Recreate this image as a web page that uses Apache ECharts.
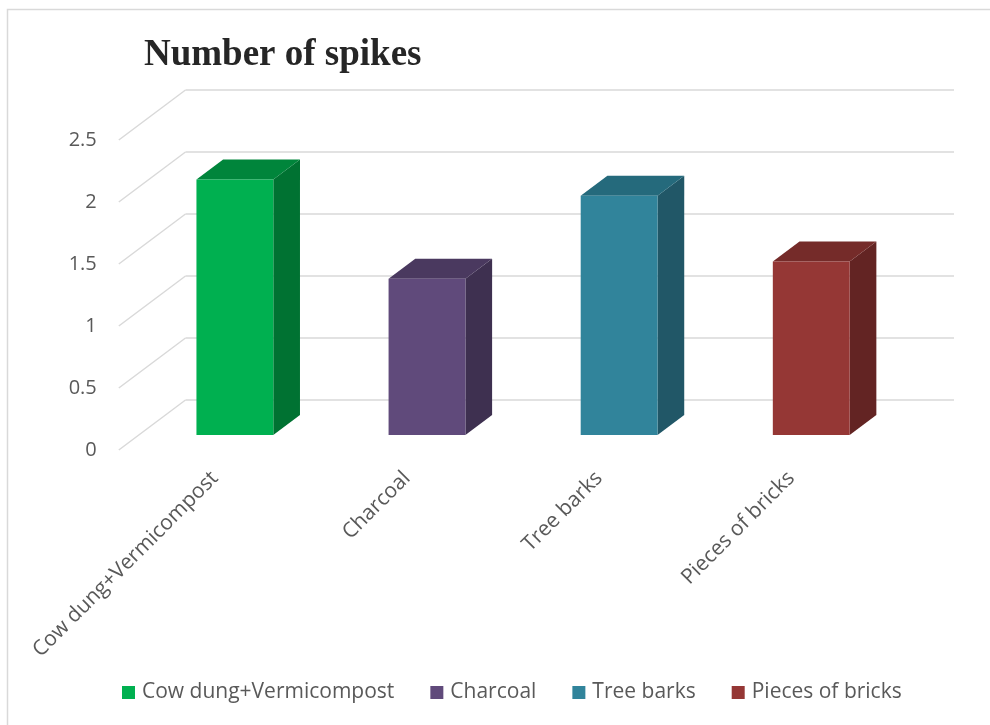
<!DOCTYPE html>
<html>
<head>
<meta charset="utf-8">
<script src="https://cdn.jsdelivr.net/npm/echarts@6/dist/echarts.min.js"></script>
<style>
  html, body { margin: 0; padding: 0; background: #fff; }
  #main { width: 990px; height: 725px; }
</style>
</head>
<body>
<div id="main"></div>
<script>
// data
const categories = ['Cow dung+Vermicompost', 'Charcoal', 'Tree barks', 'Pieces of bricks'];
const values = [2.06, 1.26, 1.93, 1.4];
const yTicks = [0, 0.5, 1, 1.5, 2, 2.5];
const frontColors = ['#00B050', '#604A7B', '#31849B', '#953735'];
const sideColors = ['#007232', '#3E3050', '#215767', '#632423'];
const topColors = ['#00853B', '#4A395F', '#256A7C', '#752B29'];

// oblique depth of the floor (back wall -> front edge), in pixels
const DEPTH = [-66.7, 50];

function renderBar(params, api) {
  const i = api.value(0);
  const top = api.coord([i, api.value(1)]);
  const base = api.coord([i, 0]);
  const w = api.size([1, 0])[0] * 0.4;
  // bar front face sits at 0.7 of the depth, back face at 0.3
  const fx = DEPTH[0] * 0.7, fy = DEPTH[1] * 0.7;
  const bx = DEPTH[0] * 0.3, by = DEPTH[1] * 0.3;
  const xl = top[0] - w / 2, xr = top[0] + w / 2;
  return {
    type: 'group',
    children: [
      {
        type: 'polygon',
        shape: { points: [[xr + fx, top[1] + fy], [xr + bx, top[1] + by], [xr + bx, base[1] + by], [xr + fx, base[1] + fy]] },
        style: { fill: sideColors[i] }
      },
      {
        type: 'polygon',
        shape: { points: [[xl + fx, top[1] + fy], [xr + fx, top[1] + fy], [xr + bx, top[1] + by], [xl + bx, top[1] + by]] },
        style: { fill: topColors[i] }
      },
      {
        type: 'rect',
        shape: { x: xl + fx, y: top[1] + fy, width: w, height: base[1] - top[1] },
        style: { fill: frontColors[i] }
      }
    ]
  };
}

function renderWallLine(params, api) {
  const p = api.coord([0, api.value(1)]);
  const x0 = p[0] - api.size([1, 0])[0] / 2;
  return {
    type: 'line',
    shape: { x1: x0, y1: p[1], x2: x0 + DEPTH[0], y2: p[1] + DEPTH[1] },
    style: { stroke: '#d9d9d9', lineWidth: 1.5 }
  };
}

const chart = echarts.init(document.getElementById('main'));

const barSeries = categories.map(function (name, i) {
  return {
    name: name,
    type: 'custom',
    xAxisIndex: 0,
    yAxisIndex: 0,
    renderItem: renderBar,
    itemStyle: { color: frontColors[i] },
    encode: { x: 0, y: 1 },
    data: [[i, values[i]]],
    z: 3
  };
});

chart.setOption({
  animation: false,
  title: {
    text: 'Number of spikes',
    left: 139,
    top: 32,
    textStyle: { fontFamily: 'Liberation Serif', fontWeight: 'bold', fontSize: 37, color: '#262626' }
  },
  legend: {
    data: categories,
    left: 117,
    top: 677,
    icon: 'rect',
    itemWidth: 13,
    itemHeight: 13,
    itemGap: 36,
    textStyle: { fontFamily: 'Open Sans', fontSize: 21, color: '#595959', padding: [0, 0, 0, 2] }
  },
  graphic: [{
    type: 'rect',
    shape: { x: 7.5, y: 9.5, width: 1000, height: 800 },
    style: { fill: 'none', stroke: '#d9d9d9', lineWidth: 1.5 },
    silent: true
  }],
  grid: [
    // back wall
    { left: 185.5, right: 36, top: 90, bottom: 325 },
    // front plane (labels)
    { left: 118.8, right: 102.7, top: 140, bottom: 275 }
  ],
  xAxis: [
    {
      gridIndex: 0, type: 'category', data: categories,
      axisLine: { show: false }, axisTick: { show: false }, axisLabel: { show: false }
    },
    {
      gridIndex: 1, type: 'category', data: categories,
      axisLine: { show: false }, axisTick: { show: false },
      axisLabel: { rotate: 45, margin: 25, interval: 0, fontFamily: 'Open Sans', fontSize: 21, color: '#595959' }
    }
  ],
  yAxis: [
    {
      gridIndex: 0, type: 'value', min: 0, max: 2.5, interval: 0.5,
      axisLine: { show: false }, axisTick: { show: false }, axisLabel: { show: false },
      splitLine: { lineStyle: { color: '#d9d9d9', width: 1.5 } }
    },
    {
      gridIndex: 1, type: 'value', min: 0, max: 2.5, interval: 0.5,
      axisLine: { show: false }, axisTick: { show: false }, splitLine: { show: false },
      axisLabel: { margin: 22, fontFamily: 'Open Sans', fontSize: 20, color: '#595959' }
    }
  ],
  series: [{
    type: 'custom',
    silent: true,
    xAxisIndex: 0,
    yAxisIndex: 0,
    renderItem: renderWallLine,
    encode: { x: 0, y: 1 },
    data: yTicks.map(function (t) { return [0, t]; }),
    z: 1
  }].concat(barSeries)
});
</script>
</body>
</html>
